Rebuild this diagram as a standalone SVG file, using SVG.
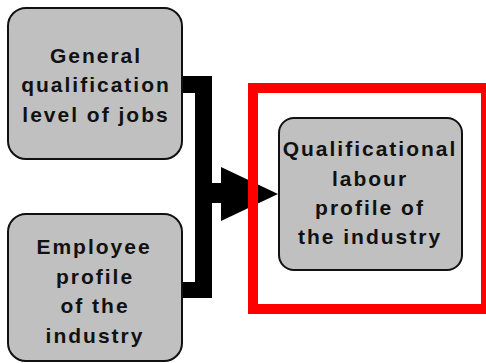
<svg xmlns="http://www.w3.org/2000/svg" width="486" height="363" viewBox="0 0 486 363">
<style>
.box{fill:#c0c0c0;stroke:#111;stroke-width:2}
.lbl{font-family:"Liberation Sans",Arial,sans-serif;font-weight:bold;font-size:21px;letter-spacing:2px;fill:#111;text-anchor:middle}
.conn{fill:#000}
</style>
<rect width="486" height="363" fill="#fff"/>
<g id="connectors">
<rect class="conn" x="180" y="76" width="32" height="17"/>
<rect class="conn" x="195" y="76" width="17" height="222"/>
<rect class="conn" x="180" y="282" width="32" height="16"/>
<rect class="conn" x="211" y="183" width="12" height="20"/>
<polygon class="conn" points="221,167 278,194 221,221"/>
</g>
<rect id="highlight" x="253" y="88" width="233" height="221" fill="none" stroke="#ff0000" stroke-width="10"/>
<g id="node-jobs">
<rect class="box" x="8" y="8" width="174" height="151" rx="18"/>
<text class="lbl" x="96" y="63">General</text>
<text class="lbl" x="96" y="92">qualification</text>
<text class="lbl" x="96" y="122">level of jobs</text>
</g>
<g id="node-employee">
<rect class="box" x="8" y="214" width="174" height="147" rx="18"/>
<text class="lbl" x="94" y="254">Employee</text>
<text class="lbl" x="95" y="284">profile</text>
<text class="lbl" x="95" y="313">of the</text>
<text class="lbl" x="95" y="343">industry</text>
</g>
<g id="node-profile">
<rect class="box" x="279" y="118" width="183" height="152" rx="15"/>
<text class="lbl" x="370" y="156">Qualificational</text>
<text class="lbl" x="370" y="186">labour</text>
<text class="lbl" x="370" y="215">profile of</text>
<text class="lbl" x="370" y="244">the industry</text>
</g>
</svg>
